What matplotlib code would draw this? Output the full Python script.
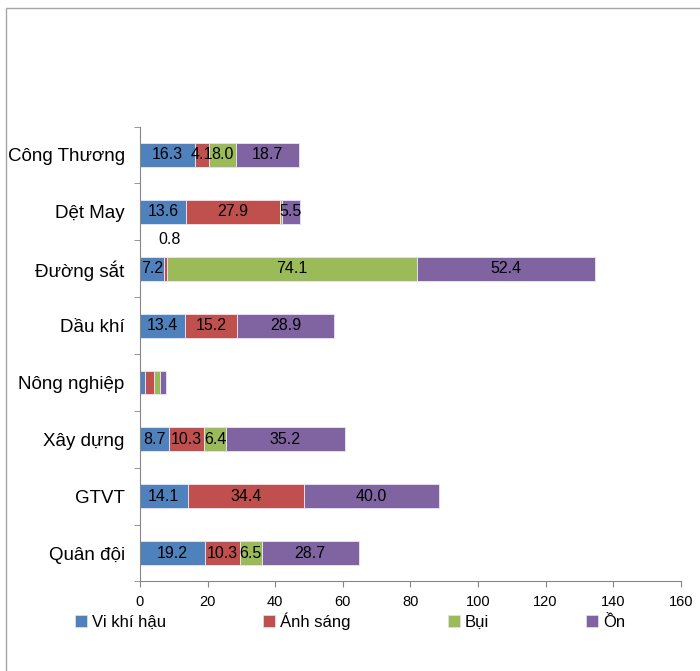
import matplotlib.pyplot as plt
from matplotlib.patches import Patch, Rectangle
import numpy as np

plt.rcParams['font.family'] = ['Liberation Sans', 'DejaVu Sans']

categories = ['Công Thương', 'Dệt May', 'Đường sắt', 'Dầu khí',
              'Nông nghiệp', 'Xây dựng', 'GTVT', 'Quân đội']
series = ['Vi khí hậu', 'Ánh sáng', 'Bụi', 'Ồn']
vi_khi_hau = [16.3, 13.6, 7.2, 13.4, 1.5, 8.7, 14.1, 19.2]
anh_sang = [4.1, 27.9, 0.8, 15.2, 2.5, 10.3, 34.4, 10.3]
bui = [8.0, 0.4, 74.1, 0.0, 2.0, 6.4, 0.0, 6.5]
on = [18.7, 5.5, 52.4, 28.9, 1.7, 35.2, 40.0, 28.7]
# which categories get value labels (Nông nghiệp has none)
labelled = [True, True, True, True, False, True, True, True]
colors = ['#4F81BD', '#C0504D', '#9BBB59', '#8064A2']

fig = plt.figure(figsize=(7, 6.71), dpi=100)
ax = fig.add_axes([0.2, 0.1334, 0.7724, 0.678])

# outer chart frame
fig.patches.append(Rectangle((6 / 700, -0.05), 1.0, 1 - 8 / 671 + 0.05,
                             transform=fig.transFigure, fill=False,
                             edgecolor='#A6A6A6', linewidth=1.0))

y = np.arange(len(categories))
left = np.zeros(len(categories))
for vals, col in zip([vi_khi_hau, anh_sang, bui, on], colors):
    vals = np.array(vals)
    ax.barh(y, vals, left=left, height=0.42, color=col,
            edgecolor='#E4E0EE', linewidth=0.7)
    for i, v in enumerate(vals):
        if v <= 0 or not labelled[i] or (categories[i] == 'Dệt May' and col == colors[2]):
            continue
        cx = left[i] + v / 2
        if v < 1:
            # too thin to hold text: put the label above the bar
            ax.annotate(f'{v:.1f}', (cx, y[i]), xytext=(3, 21),
                        textcoords='offset points', ha='center', va='center',
                        fontsize=11.5)
        else:
            ax.text(cx, y[i], f'{v:.1f}', ha='center', va='center',
                    fontsize=11.5, color='black')
    left += vals

ax.set_xlim(0, 160)
ax.set_ylim(len(categories) - 0.5, -0.5)
ax.set_xticks(np.arange(0, 161, 20))
ax.set_yticks(y)
ax.set_yticklabels(categories, fontsize=13.5)
ax.set_yticks(np.arange(-0.5, len(categories)), minor=True)
ax.tick_params(axis='y', which='major', length=0, pad=11)
ax.tick_params(axis='y', which='minor', length=4, color='#868686')
ax.tick_params(axis='x', length=4, color='#868686', labelsize=10.5, pad=6)

for s in ['top', 'right']:
    ax.spines[s].set_visible(False)
for s in ['left', 'bottom']:
    ax.spines[s].set_color('#868686')

handles = [Patch(facecolor=c, edgecolor='#E4E0EE', linewidth=0.5) for c in colors]
fig.legend(handles, series, loc='center left',
           bbox_to_anchor=(75 / 700, 1 - 621 / 671), ncol=4, frameon=False,
           fontsize=12, handlelength=0.7, handleheight=0.7, handletextpad=0.3,
           columnspacing=5.85, borderpad=0, borderaxespad=0)

fig.savefig('out.png', dpi=100)
